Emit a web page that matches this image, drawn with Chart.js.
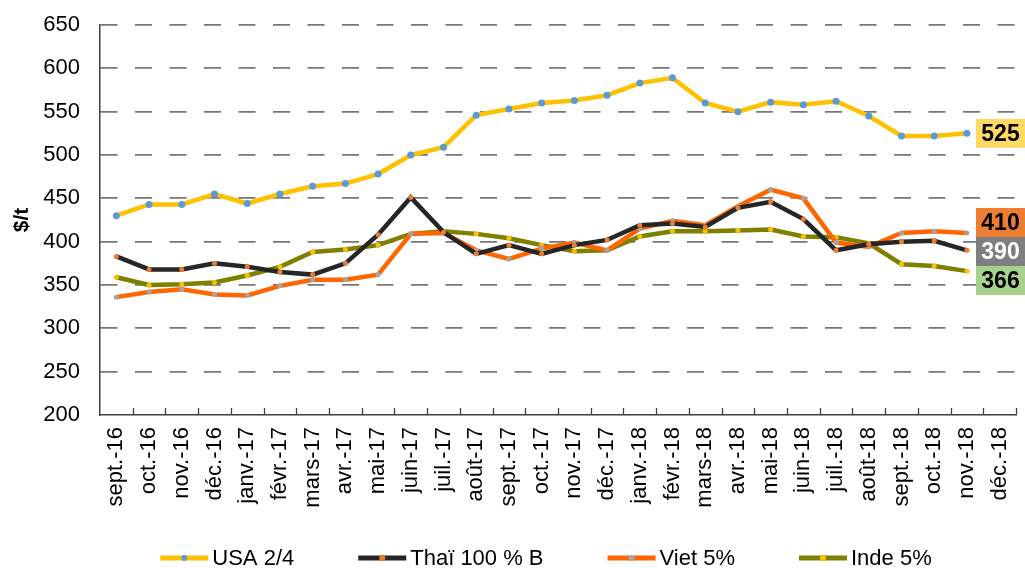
<!DOCTYPE html>
<html lang="fr">
<head>
<meta charset="utf-8">
<title>Prix du riz à l'export</title>
<script src="https://cdn.jsdelivr.net/npm/chart.js@4/dist/chart.umd.min.js"></script>
<style>
  html, body { margin: 0; padding: 0; background: #fff; }
  #wrap { width: 1025px; height: 568px; position: relative; }
</style>
</head>
<body>
<div id="wrap"><canvas id="riceChart"></canvas></div>
<script>
// Données, $/t
const months = ['sept.-16', 'oct.-16', 'nov.-16', 'déc.-16', 'janv.-17', 'févr.-17', 'mars-17',
  'avr.-17', 'mai-17', 'juin-17', 'juil.-17', 'août-17', 'sept.-17', 'oct.-17', 'nov.-17',
  'déc.-17', 'janv.-18', 'févr.-18', 'mars-18', 'avr.-18', 'mai-18', 'juin-18', 'juil.-18',
  'août-18', 'sept.-18', 'oct.-18', 'nov.-18', 'déc.-18'];
const seriesNames = ['USA 2/4', 'Thaï 100 % B', 'Viet 5%', 'Inde 5%'];
const usa  = [430, 443, 443, 455, 444, 455, 464, 467, 478, 500, 509, 546, 553, 560, 563, 569, 583, 589, 560, 550, 561, 558, 562, 545, 522, 522, 525, null];
const thai = [383, 368, 368, 375, 371, 365, 362, 375, 408, 451, 411, 386, 396, 386, 396, 402, 419, 421, 417, 439, 446, 426, 390, 397, 400, 401, 390, null];
const viet = [336, 342, 345, 339, 338, 349, 356, 356, 362, 409, 410, 390, 380, 392, 399, 390, 415, 424, 419, 441, 460, 450, 399, 394, 410, 412, 410, null];
const inde = [359, 350, 351, 353, 361, 371, 388, 391, 396, 409, 412, 409, 404, 396, 389, 390, 406, 412, 412, 413, 414, 406, 405, 398, 374, 372, 366, null];
const yTicks = [200, 250, 300, 350, 400, 450, 500, 550, 600, 650];

const FONT = "'Liberation Sans', Arial, sans-serif";

// styles par série : ligne, marqueur, étiquette finale
const styles = [
  { line: '#FFC000', point: '#5B9BD5', r: 3.5, box: '#FFD966', text: '#000' },
  { line: '#262626', point: '#ED7D31', r: 2.5, box: '#7F7F7F', text: '#fff' },
  { line: '#FF6600', point: '#A5A5A5', r: 2.5, box: '#ED7D31', text: '#000' },
  { line: '#7F7F00', point: '#FFC000', r: 2.5, box: '#A9D18E', text: '#000' }
];
const seriesData = [usa, thai, viet, inde];

// petites graduations vers l'intérieur sur l'axe des x
const innerTicks = {
  id: 'innerTicks',
  beforeDatasetsDraw(chart) {
    const { ctx, chartArea: a } = chart;
    const n = months.length;
    const step = (a.right - a.left) / n;
    ctx.save();
    ctx.strokeStyle = '#404040';
    ctx.lineWidth = 1.3;
    ctx.beginPath();
    for (let i = 1; i <= n; i++) {
      const x = Math.round(a.left + i * step) + 0.5;
      ctx.moveTo(x, a.bottom);
      ctx.lineTo(x, a.bottom - 7);
    }
    ctx.stroke();
    ctx.restore();
  }
};

// étiquettes de la dernière valeur, à droite
const endLabels = {
  id: 'endLabels',
  afterDraw(chart) {
    const { ctx } = chart;
    const yScale = chart.scales.y;
    const H = 29, W = 49;
    let items = chart.data.datasets.map((ds, i) => {
      let v = null;
      for (let k = ds.data.length - 1; k >= 0; k--) {
        if (ds.data[k] != null) { v = ds.data[k]; break; }
      }
      return { i, v, y: yScale.getPixelForValue(v) };
    }).sort((p, q) => p.y - q.y);

    // regroupe les étiquettes qui se chevauchent
    let groups = items.map(it => ({ members: [it], center: it.y }));
    let merged = true;
    while (merged) {
      merged = false;
      for (let k = 0; k < groups.length - 1; k++) {
        const g1 = groups[k], g2 = groups[k + 1];
        if (g1.center + g1.members.length * H / 2 > g2.center - g2.members.length * H / 2) {
          const members = g1.members.concat(g2.members);
          const center = members.reduce((s, m) => s + m.y, 0) / members.length;
          groups.splice(k, 2, { members, center });
          merged = true;
          break;
        }
      }
    }

    const x0 = chart.width - W;
    ctx.save();
    ctx.font = `bold 23px ${FONT}`;
    ctx.textAlign = 'center';
    ctx.textBaseline = 'middle';
    groups.forEach(g => {
      const n = g.members.length;
      g.members.forEach((m, j) => {
        const cy = g.center + (j - (n - 1) / 2) * H;
        const st = styles[m.i];
        ctx.fillStyle = st.box;
        ctx.fillRect(x0, cy - H / 2, W, H);
        ctx.fillStyle = st.text;
        ctx.fillText(String(m.v), x0 + W / 2, cy + 1);
      });
    });
    ctx.restore();
  }
};

// légende en bas (ligne + marqueur)
const bottomLegend = {
  id: 'bottomLegend',
  afterDraw(chart) {
    const { ctx } = chart;
    const symW = 48, gapText = 4, gapItem = 64;
    const y = chart.height - 10;
    ctx.save();
    ctx.font = `22px ${FONT}`;
    ctx.textBaseline = 'middle';
    const widths = chart.data.datasets.map(ds => symW + gapText + ctx.measureText(ds.label).width);
    const total = widths.reduce((s, w) => s + w, 0) + gapItem * (widths.length - 1);
    let x = 546 - total / 2;
    chart.data.datasets.forEach((ds, i) => {
      const st = styles[i];
      ctx.strokeStyle = st.line;
      ctx.lineWidth = 5;
      ctx.beginPath();
      ctx.moveTo(x, y);
      ctx.lineTo(x + symW, y);
      ctx.stroke();
      ctx.fillStyle = st.point;
      ctx.beginPath();
      ctx.arc(x + symW / 2, y, 3, 0, Math.PI * 2);
      ctx.fill();
      ctx.fillStyle = '#000';
      ctx.fillText(ds.label, x + symW + gapText, y + 1);
      x += widths[i] + gapItem;
    });
    ctx.restore();
  }
};

const riceChart = new Chart(document.getElementById('riceChart'), {
  type: 'line',
  data: {
    labels: months,
    datasets: seriesData.map((d, i) => ({
      label: seriesNames[i],
      data: d,
      borderColor: styles[i].line,
      backgroundColor: styles[i].point,
      borderWidth: 4.5,
      pointRadius: styles[i].r,
      pointBorderWidth: 0,
      pointBackgroundColor: styles[i].point,
      tension: 0,
      fill: false,
      spanGaps: false
    }))
  },
  options: {
    responsive: true,
    maintainAspectRatio: false,
    animation: false,
    layout: { padding: { top: 25, right: 9, bottom: 58, left: 0 } },
    plugins: {
      legend: { display: false },
      tooltip: { enabled: false }
    },
    scales: {
      x: {
        offset: true,
        grid: { display: true, drawOnChartArea: false, drawTicks: false },
        border: { display: true, color: '#404040', width: 1.5 },
        ticks: {
          color: '#000',
          font: { family: FONT, size: 22 },
          minRotation: 90,
          maxRotation: 90,
          autoSkip: false,
          padding: 12
        },
        afterFit(scale) {
          scale.height = 95;
          scale.paddingLeft = 0;
          scale.paddingRight = 0;
        }
      },
      y: {
        min: 200,
        max: 650,
        afterBuildTicks(scale) { scale.ticks = yTicks.map(v => ({ value: v })); },
        grid: {
          drawTicks: false,
          color: ctx => (ctx.tick && ctx.tick.value === 200 ? 'rgba(0,0,0,0)' : '#777'),
          lineWidth: 1.8
        },
        border: { display: true, color: '#404040', width: 1.5, dash: [17, 17.5] },
        ticks: {
          color: '#000',
          font: { family: FONT, size: 22 },
          padding: 20
        },
        title: {
          display: true,
          text: '$/t',
          color: '#000',
          font: { family: FONT, size: 21, weight: 'bold' },
          padding: { top: 10, bottom: 0 }
        },
        afterFit(scale) {
          scale.width = 100;
          scale.paddingTop = 0;
          scale.paddingBottom = 0;
        }
      }
    }
  },
  plugins: [innerTicks, endLabels, bottomLegend]
});
</script>
</body>
</html>
